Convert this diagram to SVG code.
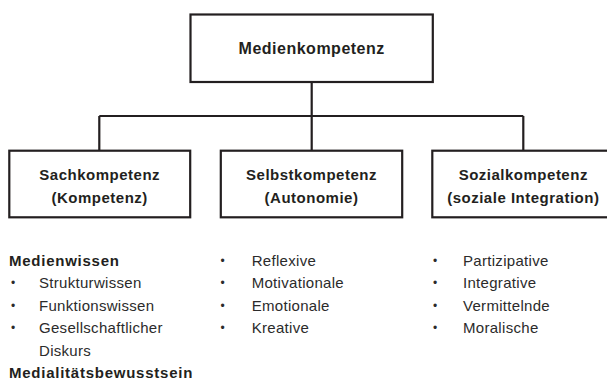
<svg xmlns="http://www.w3.org/2000/svg" width="607" height="380" viewBox="0 0 607 380">
<style>
.box{fill:#ffffff;stroke:#231f20;stroke-width:2.2}
.con{fill:none;stroke:#231f20;stroke-width:2.2}
.title{font-family:"Liberation Sans",Arial,sans-serif;font-weight:bold;fill:#231f20;text-anchor:middle}
.t16{font-size:16px;letter-spacing:0.5px}
.t15{font-size:15px;letter-spacing:0.5px}
.head{font-family:"Liberation Sans",Arial,sans-serif;font-weight:bold;font-size:15px;letter-spacing:0.75px;fill:#231f20}
.item{font-family:"Liberation Sans",Arial,sans-serif;font-size:15px;letter-spacing:0.3px;fill:#2b2b2b}
.bul{font-family:"Liberation Sans",Arial,sans-serif;font-size:12px;fill:#2b2b2b;text-anchor:middle}
</style>
<rect width="607" height="380" fill="#ffffff"/>
<g id="connectors">
<path class="con" d="M311.7 82 V150.7 M99.3 116 H523.3 M99.3 116 V150.7 M523.3 116 V150.7"/>
</g>
<g id="medienkompetenz">
<rect class="box" x="190.5" y="14.5" width="242.3" height="67.5"/>
<text class="title t16" x="311.7" y="54">Medienkompetenz</text>
</g>
<g id="sachkompetenz">
<rect class="box" x="9.3" y="150.7" width="180.9" height="66.6"/>
<text class="title t15" x="99.7" y="180">Sachkompetenz</text>
<text class="title t15" x="99.7" y="203">(Kompetenz)</text>
</g>
<g id="selbstkompetenz">
<rect class="box" x="220.8" y="150.7" width="181.4" height="66.6"/>
<text class="title t15" x="311.5" y="180">Selbstkompetenz</text>
<text class="title t15" x="311.5" y="203">(Autonomie)</text>
</g>
<g id="sozialkompetenz">
<rect class="box" x="432.3" y="150.7" width="182" height="66.6"/>
<text class="title t15" x="523.3" y="180">Sozialkompetenz</text>
<text class="title t15" x="523.3" y="203">(soziale Integration)</text>
</g>
<g id="list-sach">
<text class="head" x="9" y="265.5">Medienwissen</text>
<text class="bul" x="13" y="287">•</text>
<text class="item" x="39" y="288">Strukturwissen</text>
<text class="bul" x="13" y="309.5">•</text>
<text class="item" x="39" y="310.5">Funktionswissen</text>
<text class="bul" x="13" y="332">•</text>
<text class="item" x="39" y="333">Gesellschaftlicher</text>
<text class="item" x="39" y="355.5">Diskurs</text>
<text class="head" x="9" y="378">Medialitätsbewusstsein</text>
</g>
<g id="list-selbst">
<text class="bul" x="222.7" y="264.5">•</text>
<text class="item" x="251.7" y="265.5">Reflexive</text>
<text class="bul" x="222.7" y="287">•</text>
<text class="item" x="251.7" y="288">Motivationale</text>
<text class="bul" x="222.7" y="309.5">•</text>
<text class="item" x="251.7" y="310.5">Emotionale</text>
<text class="bul" x="222.7" y="332">•</text>
<text class="item" x="251.7" y="333">Kreative</text>
</g>
<g id="list-sozial">
<text class="bul" x="435" y="264.5">•</text>
<text class="item" x="463" y="265.5">Partizipative</text>
<text class="bul" x="435" y="287">•</text>
<text class="item" x="463" y="288">Integrative</text>
<text class="bul" x="435" y="309.5">•</text>
<text class="item" x="463" y="310.5">Vermittelnde</text>
<text class="bul" x="435" y="332">•</text>
<text class="item" x="463" y="333">Moralische</text>
</g>
</svg>
